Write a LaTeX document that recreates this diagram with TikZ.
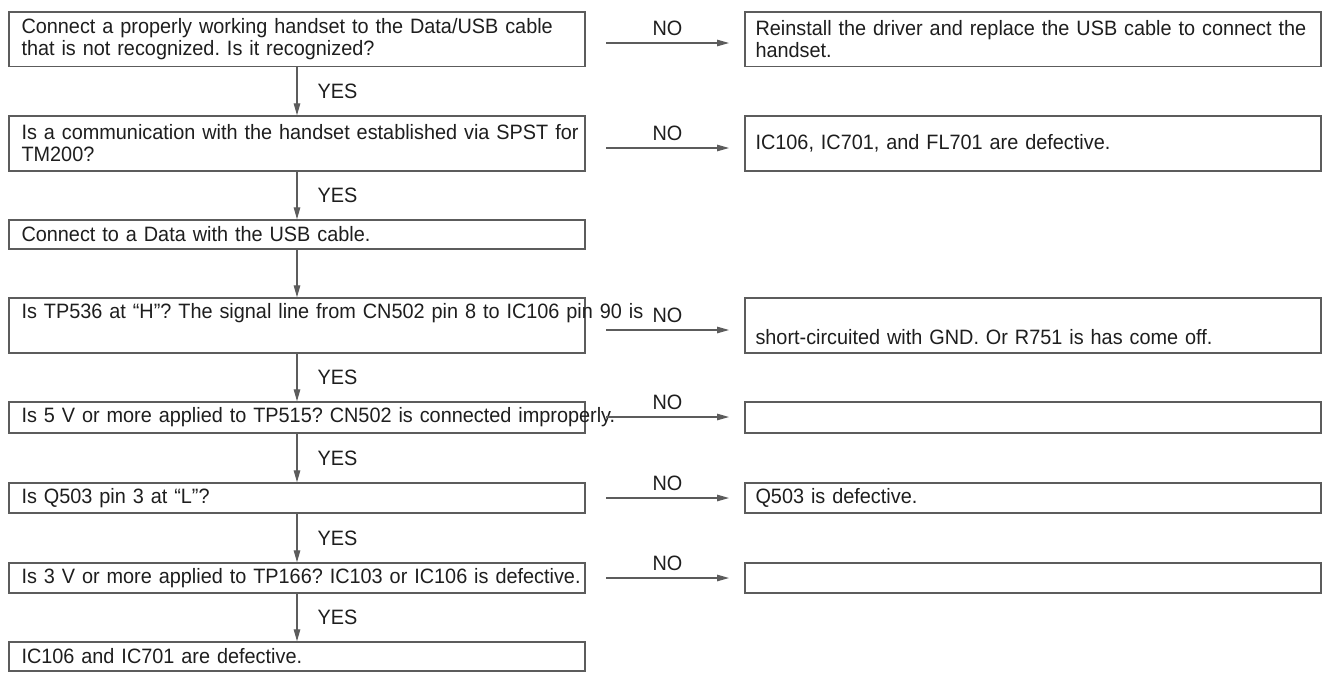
\documentclass[tikz,border=0pt]{standalone}
\usepackage{fontspec}
\setmainfont[FakeStretch=0.955]{Liberation Sans}
\usetikzlibrary{arrows.meta}
\definecolor{ink}{HTML}{1E1E1E}
\definecolor{linec}{HTML}{5C5C5C}
\newcommand\tline[1]{\rlap{#1}}
\frenchspacing
\begin{document}
\frenchspacing
\begin{tikzpicture}[x=1pt,y=-1pt,
  font=\fontsize{20.8}{22}\selectfont\frenchspacing, text=ink,
  boxbase/.style={draw=linec, line width=1.4pt, inner ysep=0pt, align=left},
  lbox/.style={boxbase, text width=551pt, inner xsep=12.5pt, minimum height=#1},
  rbox/.style={boxbase, text width=555pt, inner xsep=10.5pt, minimum height=#1},
  flow/.style={draw=linec, line width=1.2pt, -{Triangle[length=12pt,width=6.5pt]}},
  yeslab/.style={anchor=west, xshift=20pt, inner sep=0pt},
  nolab/.style={midway, above=7pt, inner sep=0pt}]
\fill[white] (0,0) rectangle (1326,673);
\useasboundingbox (0,0) rectangle (1326,673);
% left column
\node[lbox=54.5pt] (L1) at (297,39.25) {\tline{Connect a properly working handset to the Data/USB cable}\\\tline{that is not recognized. Is it recognized?}};
\node[lbox=55pt] (L2) at (297,143.5) {\tline{Is a communication with the handset established via SPST for}\\\tline{TM200?}};
\node[lbox=29pt] (L3) at (297,234.5) {\tline{Connect to a Data with the USB cable.}};
\node[lbox=55pt] (L4) at (297,325.5) {\tline{Is TP536 at “H”? The signal line from CN502 pin 8 to IC106 pin 90 is}\\\strut};
\node[lbox=31pt] (L5) at (297,417.5) {\tline{Is 5 V or more applied to TP515? CN502 is connected improperly.}};
\node[lbox=30pt] (L6) at (297,498) {\tline{Is Q503 pin 3 at “L”?}};
\node[lbox=30pt] (L7) at (297,578) {\tline{Is 3 V or more applied to TP166? IC103 or IC106 is defective.}};
\node[lbox=29pt] (L8) at (297,656.5) {\tline{IC106 and IC701 are defective.}};
% right column
\node[rbox=54.5pt] (R1) at (1033,39.25) {\tline{Reinstall the driver and replace the USB cable to connect the}\\\tline{handset.}};
\node[rbox=55pt] (R2) at (1033,143.5) {\tline{IC106, IC701, and FL701 are defective.}};
\node[rbox=55pt] (R4) at (1033,325.5) {\strut\\\tline{short-circuited with GND. Or R751 is has come off.}};
\node[rbox=31pt] (R5) at (1033,417.5) {};
\node[rbox=30pt] (R6) at (1033,498) {\tline{Q503 is defective.}};
\node[rbox=30pt] (R7) at (1033,578) {};
% vertical flow
\draw[flow] (L1.south) -- node[yeslab] {YES} (L2.north);
\draw[flow] (L2.south) -- node[yeslab] {YES} (L3.north);
\draw[flow] (L3.south) -- (L4.north);
\draw[flow] (L4.south) -- node[yeslab] {YES} (L5.north);
\draw[flow] (L5.south) -- node[yeslab] {YES} (L6.north);
\draw[flow] (L6.south) -- node[yeslab] {YES} (L7.north);
\draw[flow] (L7.south) -- node[yeslab] {YES} (L8.north);
% NO arrows
\coordinate (n1a) at (606,43);  \coordinate (n1b) at (729,43);
\coordinate (n2a) at (606,148); \coordinate (n2b) at (729,148);
\coordinate (n4a) at (606,330); \coordinate (n4b) at (729,330);
\coordinate (n5a) at (606,417); \coordinate (n5b) at (729,417);
\coordinate (n6a) at (606,498); \coordinate (n6b) at (729,498);
\coordinate (n7a) at (606,578); \coordinate (n7b) at (729,578);
\draw[flow] (n1a) -- node[nolab] {NO} (n1b);
\draw[flow] (n2a) -- node[nolab] {NO} (n2b);
\draw[flow] (n4a) -- node[nolab] {NO} (n4b);
\draw[flow] (n5a) -- node[nolab] {NO} (n5b);
\draw[flow] (n6a) -- node[nolab] {NO} (n6b);
\draw[flow] (n7a) -- node[nolab] {NO} (n7b);
\end{tikzpicture}
\end{document}
